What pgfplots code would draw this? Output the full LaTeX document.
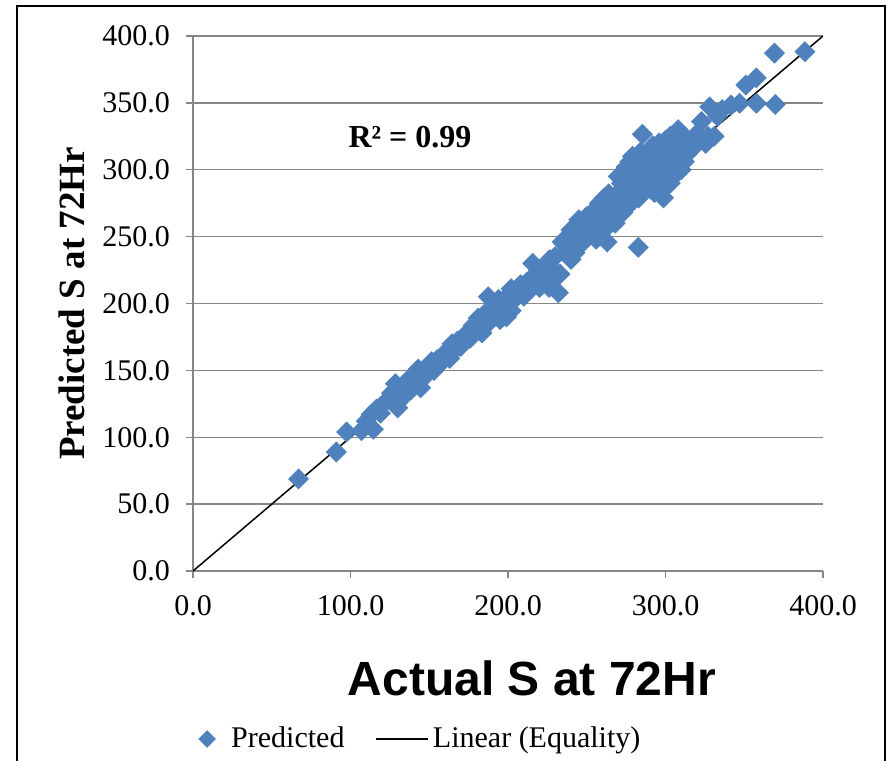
\documentclass[border=0pt]{standalone}
\usepackage{pgfplots}
\pgfplotsset{compat=1.18}
\usepackage{pgfplotstable}
\usepackage{fontspec}
\setmainfont{Liberation Serif}
\setsansfont{Liberation Sans}
\definecolor{predblue}{RGB}{79,129,189}
\definecolor{gridgray}{RGB}{134,134,134}
\pgfplotsset{
  longline legend/.style={legend image code/.code={\draw[##1] (0pt,0pt) -- (26pt,0pt);}},
  diamond legend/.style={legend image code/.code={%
    \path[draw=none, fill=none] (-4pt,0pt) rectangle (10pt,0pt);
    \draw[##1, mark size=2.9pt] plot coordinates {(0pt,0pt)};}},
}

% actual vs predicted S at 72 Hr
\pgfplotstableread{
act pred
67 68.8
91 89
97.5 104
107 105
110 112
114.5 106
113 117
116.5 121
119 118
121 125
124.5 129
126 133
128.5 140
130 122
131 127
133 131
134 138
136.5 143
138 135
140 140
142 146
143 151
144.5 137
146 144
148 149
150 153
151.5 156.5
153 150
155 158
157 155
159 162
161 160
163 159
164.5 170
166 165
168 172
170 168
172.5 175.5
174 178
176 174
178 183.7
180 181
181 189
183.5 178
185 192
187.5 205
188 186
190 195
192 199
194 203
195 188
196 197
198 200
199 190
200 206
202 194.6
202 211
204 203
206 209
208 214
210 205.4
212 216
214 210
215.7 230
217 220
219 224
220 212
221 217
223.7 224.5
225 229
226 212
226.4 232.7
228 226
228 218
230 235
232 208
233 222
234.4 246
236 238
236 248
238 243
240 233
240 255
242.5 238
244 250
245 262.6
247 245
248 255
250 258
250 265
251.8 251.7
253 266
255 260
255 270
256 248
258 263
258 275
260 270
261.2 279
262 256
263 246
264 282
265 265
266 273
268 260
270 278
270 295
271 284
272 289.8
273 268
275 282
275 302
276 292
277.3 306
278 275
279 310
280 288
281 296
282.7 242
283 279
284 313
285 300
285.3 326.5
287 290
288 298
290 305
291 285
292 318
293 283
293 296
295 310
296 300
296 320
298 285
298.7 279
299 292
300 315
300 322
301.4 292.5
303 305
303 325
303 290
305 312
305 295
306 300
307 320
308 330
309.4 328
310 318
310 300
311 326
312 306
314 312
316 322
318 317
320 327
322.8 336
325.5 319.7
327 325
328 347
330.9 325
333 340
336 345
341.6 348.3
347 349.7
351 363.3
357.7 368.7
357.7 349.7
369.2 387.2
369.7 348.8
388.5 388.3
}\preddata

\begin{document}
\begin{tikzpicture}
\begin{axis}[
  at={(0pt,0pt)}, anchor=south west,
  scale only axis,
  width=315pt, height=267.5pt,
  xmin=0, xmax=400, ymin=0, ymax=400,
  xtick={0,100,...,400}, ytick={0,50,...,400},
  axis lines*=left,
  axis line style={gridgray, line width=0.75pt},
  tick style={gridgray, line width=0.75pt},
  tick align=outside, major tick length=3.5pt,
  ymajorgrids, grid style={gridgray, line width=0.75pt},
  /pgf/number format/assume math mode=true,
  ticklabel style={font=\fontsize{15}{17}\selectfont,
    /pgf/number format/fixed, /pgf/number format/fixed zerofill,
    /pgf/number format/precision=1},
  yticklabel style={xshift=-4.5pt},
  xticklabel style={yshift=-5pt},
  xlabel={\sffamily\bfseries\fontsize{24}{28}\selectfont Actual S at 72Hr},
  xlabel style={at={(axis description cs:0.538,-0.2)}, anchor=center},
  ylabel={\bfseries\fontsize{18.5}{21}\selectfont Predicted S at 72Hr},
  ylabel style={at={(axis description cs:-0.192,0.5)}, anchor=center},
  legend style={at={(axis description cs:0.363,-0.314)}, anchor=center,
    draw=none, fill=none, legend columns=2,
    font=\fontsize{15}{17}\selectfont,
    /tikz/every even column/.append style={column sep=13.5pt}},
]
\addplot[only marks, mark=square*, mark size=3.5pt,
  mark options={rotate=45, fill=predblue, draw=predblue}, diamond legend]
  table[x=act, y=pred] {\preddata};
\addlegendentry{Predicted}
\addplot[black, line width=0.75pt, longline legend]
  coordinates {(0,0) (400,400)};
\addlegendentry{Linear (Equality)}
\node[font=\bfseries\fontsize{16}{19}\selectfont] at (axis cs:137.8,324.5) {R² = 0.99};
\end{axis}
\draw[line width=1pt] (-88pt,-100pt) -- (-88pt,282.5pt) -- (346pt,282.5pt) -- (346pt,-100pt);
\pgfresetboundingbox
\path[use as bounding box] (-96.5pt,-94.5pt) rectangle (347pt,285.5pt);
\end{tikzpicture}
\end{document}
